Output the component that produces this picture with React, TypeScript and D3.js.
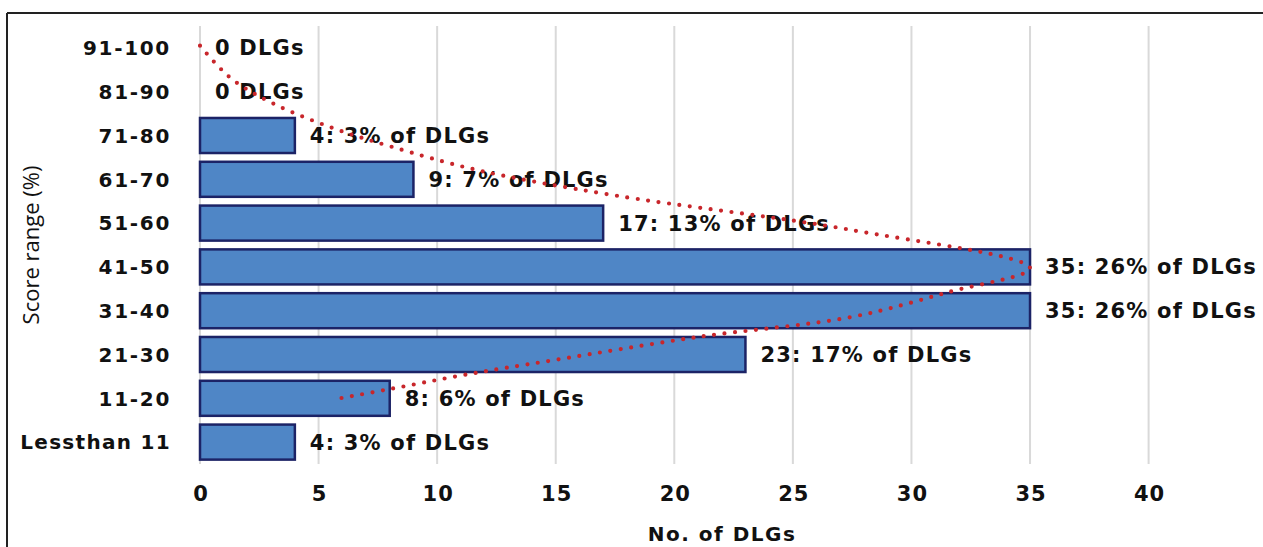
import React from "react";
import * as d3 from "d3";

const categories = ["91-100", "81-90", "71-80", "61-70", "51-60", "41-50", "31-40", "21-30", "11-20", "Lessthan 11"];
const counts = [0, 0, 4, 9, 17, 35, 35, 23, 8, 4];
const barLabels = [
  "0 DLGs", "0 DLGs", "4: 3% of DLGs", "9: 7% of DLGs", "17: 13% of DLGs",
  "35: 26% of DLGs", "35: 26% of DLGs", "23: 17% of DLGs", "8: 6% of DLGs", "4: 3% of DLGs",
];
const xTicks = [0, 5, 10, 15, 20, 25, 30, 35, 40];
// trend curve: [value, row position (0 = first category centre)]
const trendValues = [0, 0.84, 1.56, 3.2, 5.6, 8.1, 11.7, 17.4, 27.5, 35, 31.6, 27.5, 21, 14.9, 11.1, 8.0, 5.9];
const trendRows = [-0.05, 0.46, 0.8, 1.3, 1.83, 2.26, 2.79, 3.36, 4.16, 5.03, 5.57, 6.14, 6.6, 7.13, 7.47, 7.79, 8.0];

const W = 1263;
const H = 547;
const font = "'DejaVu Sans', sans-serif";

export default function App() {
  const x = d3.scaleLinear().domain([0, 40]).range([200, 1148.6]);
  const y = d3.scaleBand<string>().domain(categories).range([26, 464]).paddingInner(0.2).paddingOuter(0.1);
  const step = y.step();
  const rowY = (r: number) => (y(categories[0]) as number) + y.bandwidth() / 2 + r * step;
  const trendPts: [number, number][] = trendValues.map((v, i) => [x(v), rowY(trendRows[i])]);
  const line = d3.line().curve(d3.curveCatmullRom.alpha(0.5))(trendPts) || "";

  return (
    <svg width={W} height={H} style={{ position: "absolute", left: 0, top: 0, background: "#fff" }}>
      <rect x={0} y={0} width={W} height={H} fill="#fff" />
      {/* border */}
      <line x1={7} y1={13} x2={W} y2={13} stroke="#222" strokeWidth={2} />
      <line x1={7} y1={13} x2={7} y2={H} stroke="#222" strokeWidth={2} />
      {/* grid */}
      {xTicks.map((t) => (
        <line key={t} x1={x(t)} x2={x(t)} y1={26} y2={464} stroke="#d9d9d9" strokeWidth={2} />
      ))}
      {/* bars */}
      {categories.map((c, i) =>
        counts[i] > 0 ? (
          <rect key={c} x={x(0)} y={y(c)} width={x(counts[i]) - x(0)} height={y.bandwidth()}
            fill="#4f86c6" stroke="#1c2366" strokeWidth={2.5} />
        ) : null
      )}
      {/* bar labels */}
      {categories.map((c, i) => (
        <text key={"l" + c} x={x(counts[i]) + 15} y={(y(c) as number) + y.bandwidth() / 2}
          dy="0.36em" fontFamily={font} fontWeight="bold" fontSize={21} letterSpacing={1.2} fill="#111">{barLabels[i]}</text>
      ))}
      {/* trend */}
      <path d={line} fill="none" stroke="#c8262b" strokeWidth={4.2} strokeLinecap="round" strokeDasharray="0 10.5" />
      {/* y tick labels */}
      {categories.map((c) => (
        <text key={"y" + c} x={171} y={(y(c) as number) + y.bandwidth() / 2} dy="0.36em" textAnchor="end"
          fontFamily={font} fontWeight="bold" fontSize={20} fill="#111" letterSpacing={c.length > 8 ? 1.3 : 1.7}>{c}</text>
      ))}
      {/* x tick labels */}
      {xTicks.map((t) => (
        <text key={"x" + t} x={x(t) + 1} y={493} dy="0.36em" textAnchor="middle"
          fontFamily={font} fontWeight="bold" fontSize={21} letterSpacing={1} fill="#111">{t}</text>
      ))}
      <text x={722} y={534} dy="0.36em" textAnchor="middle" fontFamily={font} fontWeight="bold" fontSize={20} letterSpacing={1.5} fill="#111">No. of DLGs</text>
      <text transform={`translate(31,245) rotate(-90)`} textAnchor="middle" dy="0.36em"
        fontFamily="'Open Sans', sans-serif" fontSize={22} fill="#111">Score range (%)</text>
    </svg>
  );
}
